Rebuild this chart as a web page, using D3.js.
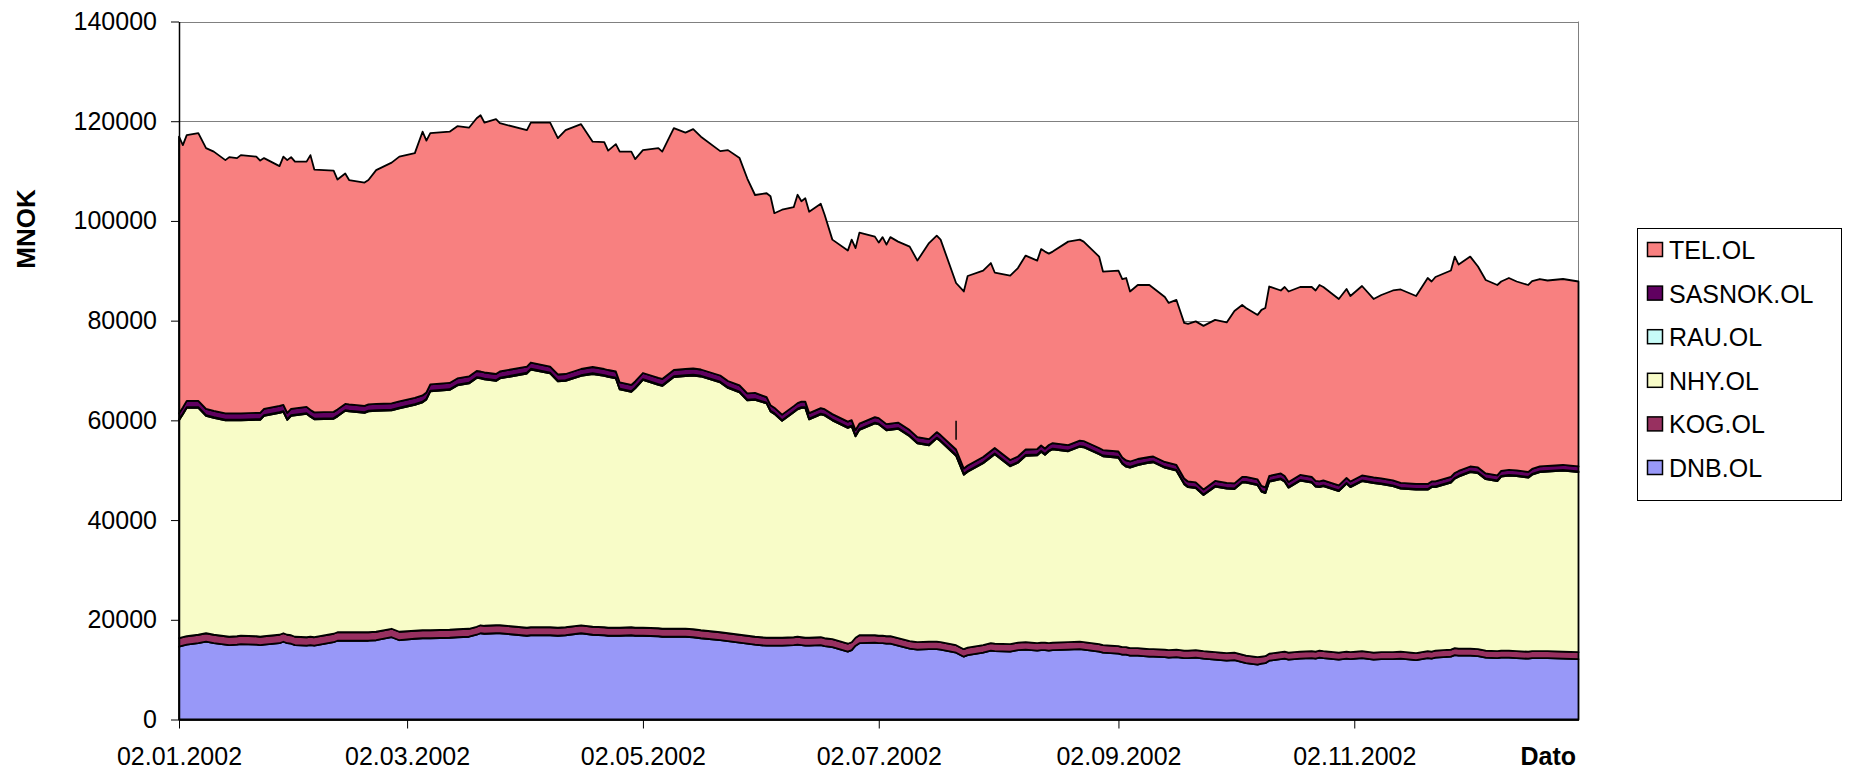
<!DOCTYPE html>
<html>
<head>
<meta charset="utf-8">
<script src="https://cdn.jsdelivr.net/npm/d3@7"></script>
<style>
  body { margin: 0; background: #fff; }
  svg { display: block; }
  text { font-family: "Liberation Sans", Arial, sans-serif; }
</style>
</head>
<body>
<svg id="chart" width="1856" height="773"></svg>
<script>
// trading days
var dates = [
  "02.01.2002","03.01.2002","04.01.2002","07.01.2002","09.01.2002","11.01.2002","14.01.2002","15.01.2002","17.01.2002","18.01.2002",
  "22.01.2002","23.01.2002","24.01.2002","28.01.2002","29.01.2002","30.01.2002","31.01.2002","01.02.2002","04.02.2002","05.02.2002",
  "06.02.2002","11.02.2002","12.02.2002","14.02.2002","15.02.2002","19.02.2002","20.02.2002","22.02.2002","26.02.2002","28.02.2002",
  "04.03.2002","06.03.2002","07.03.2002","08.03.2002","13.03.2002","15.03.2002","18.03.2002","20.03.2002","21.03.2002","22.03.2002",
  "25.03.2002","26.03.2002","02.04.2002","03.04.2002","08.04.2002","10.04.2002","12.04.2002","16.04.2002","19.04.2002","22.04.2002",
  "23.04.2002","25.04.2002","26.04.2002","29.04.2002","30.04.2002","02.05.2002","06.05.2002","07.05.2002","10.05.2002","13.05.2002",
  "15.05.2002","17.05.2002","22.05.2002","24.05.2002","27.05.2002","29.05.2002","31.05.2002","03.06.2002","04.06.2002","05.06.2002",
  "07.06.2002","10.06.2002","11.06.2002","12.06.2002","13.06.2002","14.06.2002","17.06.2002","18.06.2002","20.06.2002","24.06.2002",
  "25.06.2002","26.06.2002","27.06.2002","01.07.2002","02.07.2002","03.07.2002","04.07.2002","05.07.2002","07.07.2002","10.07.2002",
  "12.07.2002","15.07.2002","17.07.2002","18.07.2002","22.07.2002","24.07.2002","25.07.2002","29.07.2002","31.07.2002","01.08.2002",
  "05.08.2002","07.08.2002","09.08.2002","12.08.2002","13.08.2002","14.08.2002","15.08.2002","16.08.2002","20.08.2002","23.08.2002",
  "24.08.2002","28.08.2002","29.08.2002","02.09.2002","03.09.2002","04.09.2002","05.09.2002","07.09.2002","10.09.2002","11.09.2002",
  "14.09.2002","15.09.2002","17.09.2002","19.09.2002","20.09.2002","22.09.2002","24.09.2002","27.09.2002","30.09.2002","02.10.2002",
  "04.10.2002","05.10.2002","08.10.2002","09.10.2002","10.10.2002","11.10.2002","14.10.2002","15.10.2002","16.10.2002","19.10.2002",
  "22.10.2002","23.10.2002","24.10.2002","25.10.2002","29.10.2002","31.10.2002","01.11.2002","04.11.2002","07.11.2002","09.11.2002",
  "12.11.2002","14.11.2002","18.11.2002","21.11.2002","22.11.2002","23.11.2002","27.11.2002","28.11.2002","29.11.2002","02.12.2002",
  "04.12.2002","06.12.2002","09.12.2002","10.12.2002","12.12.2002","14.12.2002","17.12.2002","18.12.2002","20.12.2002","22.12.2002",
  "26.12.2002","30.12.2002"
];

// market values, MNOK
var DNB = [
  14600,14800,15000,15300,15600,15300,15000,14900,15000,15100,
  15000,14900,15000,15300,15600,15300,15200,14900,14800,14900,
  14800,15500,15800,15800,15800,15800,15800,15900,16500,15900,
  16200,16300,16300,16300,16400,16500,16600,17000,17300,17200,
  17300,17300,16800,16900,16900,16800,16900,17300,17000,16900,
  16800,16800,16800,16900,16800,16800,16700,16600,16600,16600,
  16500,16300,15900,15700,15400,15200,15000,14800,14800,14800,
  14800,14900,15000,14900,14800,14800,14900,14700,14500,13600,
  13900,14800,15300,15400,15300,15300,15200,15200,14800,14200,
  14000,14100,14100,14000,13400,12600,12900,13400,13800,13700,
  13600,13900,14000,13800,13900,13900,13800,13900,14000,14100,
  14000,13600,13400,13200,13000,13000,12800,12800,12600,12600,
  12500,12400,12500,12300,12300,12400,12200,12000,11800,11900,
  11500,11300,11000,11200,11300,11800,12100,12200,12000,12200,
  12300,12200,12400,12300,12000,12200,12100,12300,12000,12100,
  12100,12200,11900,12300,12200,12400,12600,12900,12800,12800,
  12700,12400,12300,12400,12400,12300,12200,12300,12300,12300,
  12200,12100
];

var KOG = [
  1700,1700,1700,1700,1700,1700,1700,1700,1700,1700,
  1700,1700,1700,1700,1700,1700,1700,1700,1700,1700,
  1700,1700,1700,1700,1700,1700,1700,1700,1700,1700,
  1600,1600,1600,1600,1600,1600,1600,1600,1600,1600,
  1600,1600,1600,1600,1600,1600,1600,1600,1600,1600,
  1600,1600,1600,1600,1600,1600,1600,1600,1600,1600,
  1600,1600,1600,1600,1600,1600,1600,1600,1600,1600,
  1600,1600,1600,1600,1600,1600,1600,1600,1600,1600,
  1600,1600,1600,1500,1500,1500,1500,1500,1500,1500,
  1500,1500,1500,1500,1500,1500,1500,1500,1500,1500,
  1500,1500,1500,1500,1500,1500,1500,1500,1500,1500,
  1500,1500,1500,1500,1500,1500,1500,1500,1500,1500,
  1500,1500,1500,1500,1500,1500,1500,1500,1500,1500,
  1500,1500,1500,1400,1400,1400,1400,1400,1400,1400,
  1400,1400,1400,1400,1400,1400,1400,1400,1400,1400,
  1400,1400,1400,1400,1400,1400,1400,1400,1400,1400,
  1400,1400,1400,1400,1400,1400,1400,1400,1400,1400,
  1400,1400
];

var NHY = [
  43700,44700,45800,45500,43600,43500,43300,43400,43300,43200,
  43400,43500,44200,44500,44400,43100,44000,44400,44800,44100,
  43700,43100,43300,44400,44300,44000,44300,44300,43800,44800,
  45300,45700,46300,47900,48100,48900,49200,49900,49500,49400,
  49000,49500,51000,51700,50900,49400,49400,50000,50700,50400,
  50300,50000,47800,47200,48000,49700,48800,48700,50500,50700,
  50900,50900,50100,49200,48600,47200,47500,47000,45400,44900,
  43500,45100,45600,46000,46100,43800,44700,44700,43900,43300,
  43300,40400,41200,42500,42400,41800,41300,41400,42000,41100,
  39900,39400,40800,40300,38000,35000,35300,36500,37300,38000,
  35700,36100,37400,37700,38300,37700,38500,38800,38300,39100,
  39100,38100,37900,37800,36800,36200,36200,36700,37400,37500,
  36500,36400,35900,33400,32800,32500,31300,33200,33000,32800,
  34500,34700,34500,33100,32700,34500,34700,34100,33100,34300,
  33800,33100,32800,33100,32400,33700,33100,34100,34000,33700,
  33300,32700,32800,32400,33000,32800,33500,34000,34500,35400,
  35300,34400,34100,34900,35100,35100,34900,35400,35900,36000,
  36300,36100
];

var RAU = [
  150,150,150,150,150,150,150,150,150,150,
  150,150,150,150,150,150,150,150,150,150,
  150,150,150,150,150,150,150,150,150,150,
  150,150,150,150,150,150,150,150,150,150,
  150,150,150,150,150,150,150,150,150,150,
  150,150,150,150,150,150,150,150,150,150,
  150,150,150,150,150,150,150,150,150,150,
  150,150,150,150,150,150,150,150,150,150,
  150,150,150,150,150,150,150,150,150,150,
  150,150,150,150,150,150,150,150,150,150,
  150,150,150,150,150,150,150,150,150,150,
  150,150,150,150,150,150,150,150,150,150,
  150,150,150,150,150,150,150,150,150,150,
  150,150,150,150,150,150,150,150,150,150,
  150,150,150,150,150,150,150,150,150,150,
  150,150,150,150,150,150,150,150,150,150,
  150,150,150,150,150,150,150,150,150,150,
  150,150
];

var SASNOK = [
  1250,1250,1250,1250,1250,1250,1250,1250,1250,1250,
  1250,1250,1250,1250,1250,1250,1250,1250,1250,1250,
  1250,1250,1250,1250,1250,1250,1250,1250,1250,1250,
  1250,1250,1250,1250,1250,1250,1250,1250,1250,1250,
  1250,1250,1250,1250,1250,1250,1250,1250,1250,1250,
  1250,1250,1250,1250,1250,1250,1250,1250,1250,1250,
  1250,1250,1250,1250,1250,1250,1250,1100,1100,1100,
  1100,1100,1100,1100,1100,1100,1100,1100,1100,1100,
  1100,1100,1100,1100,1100,1100,1100,1100,1100,1100,
  1100,1100,1100,1100,1100,1100,1100,1100,1100,1100,
  1100,1100,1100,1100,1100,1100,1100,1100,1100,1100,
  1100,1100,1100,1100,1100,1100,1100,1100,1000,1000,
  1000,1000,1000,1000,1000,1000,1000,1000,1000,1000,
  1000,1000,1000,1000,1000,1000,1000,1000,1000,1000,
  1000,1000,1000,1000,1000,1000,1000,1000,1000,1000,
  1000,1000,1000,1000,1000,1000,1000,1000,1000,1000,
  1000,1000,1000,1000,1000,1000,1000,1000,1000,1000,
  1000,1000
];

var TEL = [
  55500,52600,53300,53700,52300,52000,50800,51400,51200,51800,
  51400,50600,50300,48100,49800,50700,50500,49500,49200,51100,
  48700,48400,46100,46200,45000,44800,45000,46900,48300,49100,
  49100,52900,50500,50400,50400,50600,49900,50700,51400,50100,
  51100,49800,47400,48100,48900,47400,48900,49100,45200,45500,
  44000,45600,46300,46800,44600,44700,46100,45600,48500,47400,
  48000,46700,45000,46300,45600,43100,39700,40900,41900,39000,
  41100,39900,41800,40200,40800,40400,41000,39000,35000,34300,
  36200,36500,38300,36200,35200,36900,36000,37400,36300,36800,
  35400,39300,39400,39200,33400,35500,38000,37400,37700,35200,
  37000,37800,38900,37800,39400,39500,38400,38400,40800,40300,
  40000,38400,35800,36300,35800,36600,34100,34900,34500,33800,
  33100,32100,33100,31200,31600,32300,32800,32300,32200,34600,
  34500,33900,33000,35300,36000,38000,36700,37900,38200,37700,
  38100,38200,39400,38800,37400,37900,37200,38000,35800,36800,
  38100,38800,37700,41300,40100,41000,41400,43400,41400,42100,
  40300,38800,38200,38000,38500,37900,37500,37700,37600,37200,
  37300,37100
];

var keys = ["DNB.OL", "KOG.OL", "NHY.OL", "RAU.OL", "SASNOK.OL", "TEL.OL"];
var seriesValues = [DNB, KOG, NHY, RAU, SASNOK, TEL];
var colors = ["#9898f8", "#983060", "#f8fcc8", "#c8fcf8", "#600060", "#f88080"];
var legendOrder = ["TEL.OL", "SASNOK.OL", "RAU.OL", "NHY.OL", "KOG.OL", "DNB.OL"];

var yTicks = [0, 20000, 40000, 60000, 80000, 100000, 120000, 140000];
var xTickLabels = ["02.01.2002", "02.03.2002", "02.05.2002", "02.07.2002", "02.09.2002", "02.11.2002"];
var xFirst = "02.01.2002", xLast = "30.12.2002";

// the small stray vertical mark in the original picture
var strayMark = ["22.07.2002", 56100, 59900];

var parse = d3.timeParse("%d.%m.%Y");

var rows = dates.map(function(d, i) {
  var row = { date: parse(d) };
  keys.forEach(function(k, j) { row[k] = seriesValues[j][i]; });
  return row;
});

var stacked = d3.stack().keys(keys)(rows);

var plotL = 179, plotR = 1578.5, plotT = 21.5, plotB = 719.5;

var x = d3.scaleTime()
  .domain([parse(xFirst), parse(xLast)])
  .range([plotL, plotR]);

var y = d3.scaleLinear()
  .domain([0, 140000])
  .range([plotB, plotT]);

var color = d3.scaleOrdinal().domain(keys).range(colors);

var svg = d3.select("#chart");

svg.append("rect")
  .attr("width", 1856)
  .attr("height", 773)
  .attr("fill", "#fff");

// gridlines
svg.append("g")
  .selectAll("line")
  .data(yTicks)
  .join("line")
  .attr("x1", plotL)
  .attr("x2", plotR)
  .attr("y1", function(d) { return Math.round(y(d)) + 0.5; })
  .attr("y2", function(d) { return Math.round(y(d)) + 0.5; })
  .attr("stroke", "#808080")
  .attr("stroke-width", 1);

svg.append("line")
  .attr("x1", plotR).attr("x2", plotR)
  .attr("y1", plotT).attr("y2", plotB)
  .attr("stroke", "#808080");

var area = d3.area()
  .x(function(d) { return x(d.data.date); })
  .y0(function(d) { return y(d[0]); })
  .y1(function(d) { return y(d[1]); });

svg.append("g")
  .selectAll("path")
  .data(stacked)
  .join("path")
  .attr("d", area)
  .attr("fill", function(d) { return color(d.key); })
  .attr("stroke", "#000")
  .attr("stroke-width", 1.8)
  .attr("stroke-linejoin", "round");

svg.append("line")
  .attr("x1", x(parse(strayMark[0]))).attr("x2", x(parse(strayMark[0])))
  .attr("y1", y(strayMark[1])).attr("y2", y(strayMark[2]))
  .attr("stroke", "#000")
  .attr("stroke-width", 1.5);

// axes
var yAxis = d3.axisLeft(y)
  .tickValues(yTicks)
  .tickFormat(d3.format("d"))
  .tickSize(8)
  .tickSizeOuter(0)
  .tickPadding(14);

var gy = svg.append("g")
  .attr("transform", "translate(" + plotL + ",0)")
  .call(yAxis);

var xAxis = d3.axisBottom(x)
  .tickValues(xTickLabels.map(parse))
  .tickFormat(d3.timeFormat("%d.%m.%Y"))
  .tickSize(9)
  .tickSizeOuter(0)
  .tickPadding(19);

var gx = svg.append("g")
  .attr("transform", "translate(0," + plotB + ")")
  .call(xAxis);

[gx, gy].forEach(function(g) {
  g.select(".domain").attr("stroke", "#000").attr("stroke-width", 1.5);
  g.selectAll(".tick line").attr("stroke", "#000");
  g.selectAll(".tick text")
    .attr("fill", "#000")
    .style("font-size", "25px")
    .style("font-family", "'Liberation Sans', Arial, sans-serif");
});

svg.append("text")
  .attr("x", 1576)
  .attr("y", 765)
  .attr("text-anchor", "end")
  .style("font-size", "25px")
  .style("font-weight", "bold")
  .text("Dato");

svg.append("text")
  .attr("transform", "translate(35,229) rotate(-90)")
  .attr("text-anchor", "middle")
  .style("font-size", "26px")
  .style("font-weight", "bold")
  .text("MNOK");

// legend
var legend = svg.append("g");

legend.append("rect")
  .attr("x", 1637.5)
  .attr("y", 228.5)
  .attr("width", 204)
  .attr("height", 272)
  .attr("fill", "#fff")
  .attr("stroke", "#000");

var item = legend.selectAll("g.item")
  .data(legendOrder)
  .join("g")
  .attr("class", "item")
  .attr("transform", function(d, i) { return "translate(0," + (250 + i * 43.6) + ")"; });

item.append("rect")
  .attr("x", 1647.5)
  .attr("y", -7.5)
  .attr("width", 15)
  .attr("height", 14)
  .attr("fill", function(d) { return color(d); })
  .attr("stroke", "#000")
  .attr("stroke-width", 1.5);

item.append("text")
  .attr("x", 1669)
  .attr("y", 0)
  .attr("dy", "0.36em")
  .style("font-size", "25px")
  .text(function(d) { return d; });
</script>
</body>
</html>
